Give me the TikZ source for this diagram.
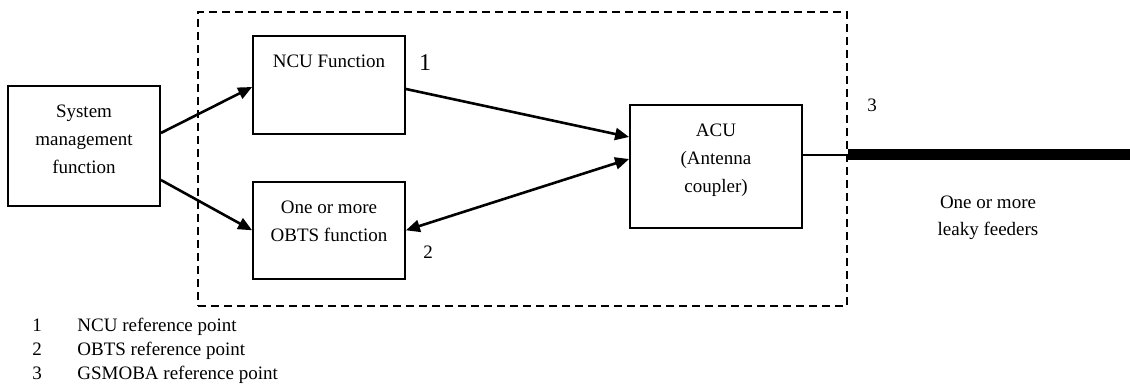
\documentclass[tikz,border=0pt]{standalone}
\usepackage{fontspec}
\setmainfont{Liberation Serif}
\usetikzlibrary{arrows.meta,positioning}

\begin{document}
\begin{tikzpicture}[
    x=0.5pt, y=-0.5pt,
    box/.style={rectangle, draw=black, line width=0.9pt, align=center, inner xsep=2pt, inner ysep=0pt, font=\fontsize{9.5}{14}\selectfont},
    unitbox/.style={rectangle, draw=black, line width=0.8pt, dash pattern=on 4pt off 2.5pt, minimum width=324.5pt, minimum height=147pt},
    flow/.style={line width=1.3pt, -{Triangle[length=7pt, width=6pt]}},
    biflow/.style={line width=1.3pt, {Triangle[length=7pt, width=6pt]}-{Triangle[length=7pt, width=6pt]}},
    refnum/.style={inner sep=0pt, font=\fontsize{9.5}{11.5}\selectfont},
    legtext/.style={inner sep=0pt, font=\fontsize{9.5}{11.5}\selectfont}
]
\useasboundingbox (0,0) rectangle (1130,389);

% Functional blocks
\node[box, minimum width=76pt, minimum height=60pt, text height=43.8pt, text depth=16.2pt] (sysfun) at (84,146) {System\\management\\function};
\node[unitbox] (unit) at (522.5,159) {};
\node[box, minimum width=76pt, minimum height=49pt, text height=15.8pt, text depth=33.2pt] (ncu) at (329,85) {NCU Function};
\node[box, minimum width=76pt, minimum height=48.5pt, text height=29.8pt, text depth=18.7pt, below=23pt of ncu] (obts) {One or more\\OBTS function};
\node[box, minimum width=86pt, minimum height=61.5pt, text height=43.8pt, text depth=17.7pt] (acu) at (716,166.5) {ACU\\(Antenna\\coupler)};

% Reference points
\node[refnum, font=\fontsize{12}{14}\selectfont] (rp1) at (425,63) {1};
\node[refnum] (rp2) at (428,252) {2};
\node[refnum] (rp3) at (872,105) {3};
\node[align=center, inner sep=0pt, font=\fontsize{9.5}{13.5}\selectfont] (leaky) at (988,218) {One or more\\leaky feeders};

% Connections
\draw[flow] ([yshift=6.5pt]sysfun.east) -- ([yshift=-1pt]ncu.west);
\draw[flow] ([yshift=-17pt]sysfun.east) -- (obts.west);
\draw[flow] ([yshift=-2pt]ncu.east) -- ([yshift=14.75pt]acu.west);
\draw[biflow] ([yshift=3.75pt]acu.west) -- (obts.east);

% Feeder
\coordinate (tap) at ([yshift=5.75pt]acu.east);
\coordinate (feedend) at (1130,155);
\draw[line width=0.7pt] (tap) -- (tap -| unit.east);
\draw[line width=5.5pt] (tap -| unit.east) -- (feedend);

% Legend
\node[legtext, anchor=base] (k1) at (37,332) {1};
\node[legtext, anchor=base west] (l1) at (77,332) {NCU reference point};
\node[legtext, anchor=base] (k2) at (37,356) {2};
\node[legtext, anchor=base west] (l2) at (77,356) {OBTS reference point};
\node[legtext, anchor=base] (k3) at (37,380) {3};
\node[legtext, anchor=base west] (l3) at (77,380) {GSMOBA reference point};

\end{tikzpicture}
\end{document}
